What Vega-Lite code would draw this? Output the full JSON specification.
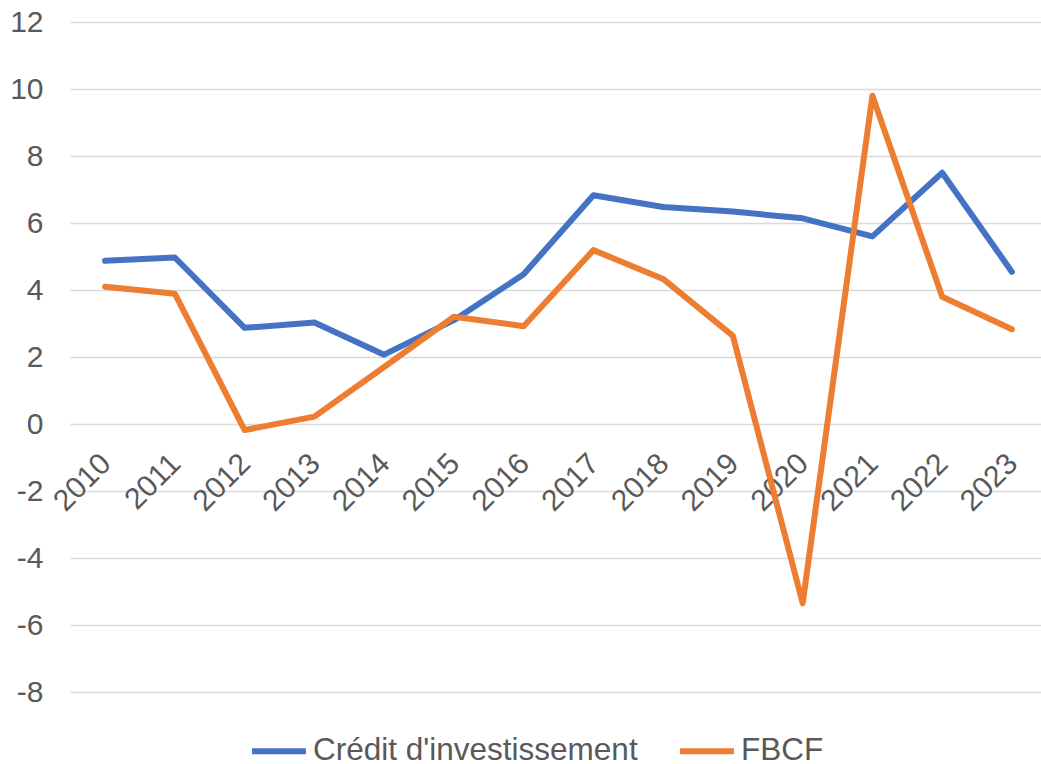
{
  "$schema": "https://vega.github.io/schema/vega-lite/v6.json",
  "width": 971,
  "height": 670,
  "autosize": {"type": "none"},
  "padding": {"left": 70, "top": 22, "right": 0, "bottom": 72},
  "background": "white",
  "config": {
    "view": {"stroke": null},
    "font": "Liberation Sans",
    "axis": {"labelFont": "Liberation Sans", "labelColor": "#595959"},
    "legend": {"labelFont": "Liberation Sans", "labelColor": "#595959"}
  },
  "data": {
    "values": [
      {"year": "2010", "series": "Crédit d'investissement", "value": 4.87},
      {"year": "2011", "series": "Crédit d'investissement", "value": 4.97},
      {"year": "2012", "series": "Crédit d'investissement", "value": 2.87},
      {"year": "2013", "series": "Crédit d'investissement", "value": 3.03},
      {"year": "2014", "series": "Crédit d'investissement", "value": 2.07},
      {"year": "2015", "series": "Crédit d'investissement", "value": 3.1},
      {"year": "2016", "series": "Crédit d'investissement", "value": 4.47},
      {"year": "2017", "series": "Crédit d'investissement", "value": 6.83},
      {"year": "2018", "series": "Crédit d'investissement", "value": 6.48},
      {"year": "2019", "series": "Crédit d'investissement", "value": 6.34},
      {"year": "2020", "series": "Crédit d'investissement", "value": 6.14},
      {"year": "2021", "series": "Crédit d'investissement", "value": 5.6},
      {"year": "2022", "series": "Crédit d'investissement", "value": 7.5},
      {"year": "2023", "series": "Crédit d'investissement", "value": 4.54},
      {"year": "2010", "series": "FBCF", "value": 4.1},
      {"year": "2011", "series": "FBCF", "value": 3.89},
      {"year": "2012", "series": "FBCF", "value": -0.18},
      {"year": "2013", "series": "FBCF", "value": 0.22},
      {"year": "2014", "series": "FBCF", "value": 1.7},
      {"year": "2015", "series": "FBCF", "value": 3.2},
      {"year": "2016", "series": "FBCF", "value": 2.92},
      {"year": "2017", "series": "FBCF", "value": 5.19},
      {"year": "2018", "series": "FBCF", "value": 4.33},
      {"year": "2019", "series": "FBCF", "value": 2.63},
      {"year": "2020", "series": "FBCF", "value": -5.35},
      {"year": "2021", "series": "FBCF", "value": 9.8},
      {"year": "2022", "series": "FBCF", "value": 3.8},
      {"year": "2023", "series": "FBCF", "value": 2.83}
    ]
  },
  "mark": {"type": "line", "strokeWidth": 6, "strokeCap": "round", "strokeJoin": "round"},
  "encoding": {
    "x": {
      "field": "year",
      "type": "ordinal",
      "scale": {"type": "point", "padding": 0.46, "align": 0.547},
      "axis": {
        "title": null,
        "domain": false,
        "ticks": false,
        "tickSize": 0,
        "grid": false,
        "labelAngle": -45,
        "labelFontSize": 30,
        "labelPadding": 24,
        "labelOffset": -10,
        "offset": -268
      }
    },
    "y": {
      "field": "value",
      "type": "quantitative",
      "scale": {"domain": [-8, 12], "nice": false, "zero": false},
      "axis": {
        "title": null,
        "values": [-8, -6, -4, -2, 0, 2, 4, 6, 8, 10, 12],
        "labelExpr": "replace(datum.label, '−', '-')",
        "domain": false,
        "ticks": false,
        "tickSize": 0,
        "labelPadding": 27,
        "labelFontSize": 30,
        "gridColor": "#d9d9d9",
        "gridWidth": 1.5
      }
    },
    "color": {
      "field": "series",
      "type": "nominal",
      "scale": {"domain": ["Crédit d'investissement", "FBCF"], "range": ["#4472C4", "#ED7D31"]},
      "legend": {
        "title": null,
        "orient": "none",
        "direction": "horizontal",
        "legendX": 179,
        "legendY": 699,
        "symbolType": "stroke",
        "symbolSize": 2900,
        "symbolStrokeWidth": 6,
        "labelFontSize": 31.5,
        "labelLimit": 0,
        "labelOffset": 4,
        "columnPadding": 30
      }
    }
  }
}
